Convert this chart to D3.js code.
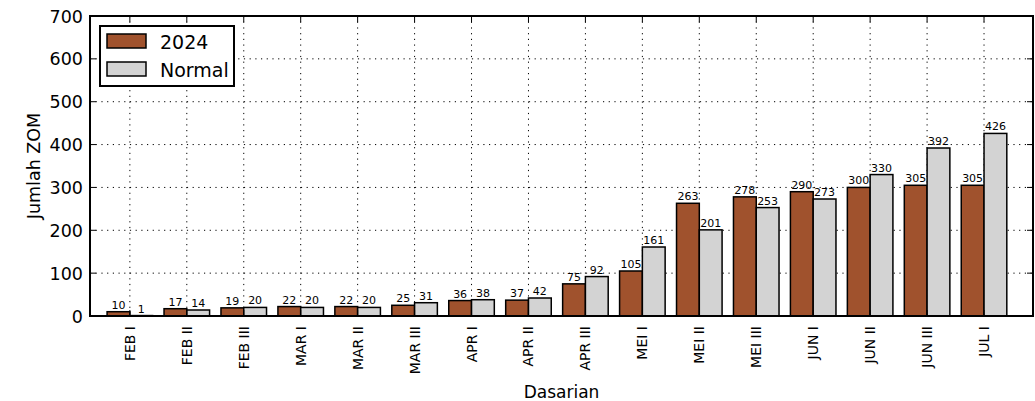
<!DOCTYPE html>
<html>
<head>
<meta charset="utf-8">
<script src="https://cdn.jsdelivr.net/npm/d3@7"></script>
<style>
  body { margin: 0; background: #fff; }
  svg { font-family: "DejaVu Sans", sans-serif; }
  .grid line { stroke: #000; stroke-width: 1; stroke-dasharray: 1.2,4.5; }
  .val { font-size: 11px; fill: #000; }
</style>
</head>
<body>
<svg width="1035" height="401"></svg>
<script>
// data
const categories = ["FEB I", "FEB II", "FEB III", "MAR I", "MAR II", "MAR III", "APR I", "APR II",
  "APR III", "MEI I", "MEI II", "MEI III", "JUN I", "JUN II", "JUN III", "JUL I"];
const values2024 = [10, 17, 19, 22, 22, 25, 36, 37, 75, 105, 263, 278, 290, 300, 305, 305];
const valuesNormal = [1, 14, 20, 20, 20, 31, 38, 42, 92, 161, 201, 253, 273, 330, 392, 426];
const yTicks = [0, 100, 200, 300, 400, 500, 600, 700];

const plotL = 90, plotR = 1033, plotT = 16, plotB = 316;
const svg = d3.select("svg");

const x = d3.scaleLinear().domain([-0.7, categories.length - 0.14]).range([plotL, plotR]);
const y = d3.scaleLinear().domain([0, 700]).range([plotB, plotT]);
const bw = 0.4;

// grid
const grid = svg.append("g").attr("class", "grid");
grid.selectAll(".gx").data(categories).enter().append("line")
  .attr("x1", (d, i) => x(i)).attr("x2", (d, i) => x(i))
  .attr("y1", plotT).attr("y2", plotB);
grid.selectAll(".gy").data(yTicks).enter().append("line")
  .attr("x1", plotL).attr("x2", plotR)
  .attr("y1", d => y(d)).attr("y2", d => y(d));

// bars
const series = [
  { name: "2024", vals: values2024, color: "#a0522d", off: -bw },
  { name: "Normal", vals: valuesNormal, color: "#d3d3d3", off: 0 }
];
series.forEach(s => {
  svg.append("g").selectAll("rect").data(s.vals).enter().append("rect")
    .attr("x", (d, i) => x(i + s.off))
    .attr("width", x(bw) - x(0))
    .attr("y", d => y(d))
    .attr("height", d => y(0) - y(d))
    .attr("fill", s.color)
    .attr("stroke", "#000")
    .attr("stroke-width", 1.5);
  svg.append("g").selectAll("text").data(s.vals).enter().append("text")
    .attr("class", "val")
    .attr("x", (d, i) => x(i + s.off + bw / 2))
    .attr("y", d => y(d) - 3)
    .attr("text-anchor", "middle")
    .text(d => d);
});

// ticks (inward, all sides)
const ticks = svg.append("g").attr("stroke", "#000").attr("stroke-width", 1);
categories.forEach((c, i) => {
  ticks.append("line").attr("x1", x(i)).attr("x2", x(i)).attr("y1", plotB).attr("y2", plotB - 6);
  ticks.append("line").attr("x1", x(i)).attr("x2", x(i)).attr("y1", plotT).attr("y2", plotT + 6);
});
yTicks.forEach(t => {
  ticks.append("line").attr("x1", plotL).attr("x2", plotL + 6).attr("y1", y(t)).attr("y2", y(t));
  ticks.append("line").attr("x1", plotR).attr("x2", plotR - 6).attr("y1", y(t)).attr("y2", y(t));
});

// frame
svg.append("rect").attr("x", plotL).attr("y", plotT)
  .attr("width", plotR - plotL).attr("height", plotB - plotT)
  .attr("fill", "none").attr("stroke", "#000").attr("stroke-width", 2);

// tick labels
svg.append("g").selectAll("text").data(yTicks).enter().append("text")
  .attr("x", plotL - 7).attr("y", d => y(d) + 6.5)
  .attr("text-anchor", "end").attr("font-size", 17.5)
  .text(d => d);
svg.append("g").selectAll("text").data(categories).enter().append("text")
  .attr("transform", (d, i) => `translate(${x(i) + 5},${plotB + 10}) rotate(-90)`)
  .attr("text-anchor", "end").attr("font-size", 14)
  .text(d => d);

// axis titles
svg.append("text").attr("transform", "translate(40,166) rotate(-90)")
  .attr("text-anchor", "middle").attr("font-size", 17.5).text("Jumlah ZOM");
svg.append("text").attr("x", (plotL + plotR) / 2).attr("y", 398)
  .attr("text-anchor", "middle").attr("font-size", 17).text("Dasarian");

// legend
const lg = svg.append("g");
lg.append("rect").attr("x", 100).attr("y", 26).attr("width", 134).attr("height", 60)
  .attr("fill", "#fff").attr("stroke", "#000").attr("stroke-width", 2);
series.forEach((s, i) => {
  lg.append("rect").attr("x", 107).attr("y", 34 + i * 28).attr("width", 39).attr("height", 14)
    .attr("fill", s.color).attr("stroke", "#000").attr("stroke-width", 1.5);
  lg.append("text").attr("x", 160).attr("y", 48.5 + i * 28).attr("font-size", 19).text(s.name);
});
</script>
</body>
</html>
